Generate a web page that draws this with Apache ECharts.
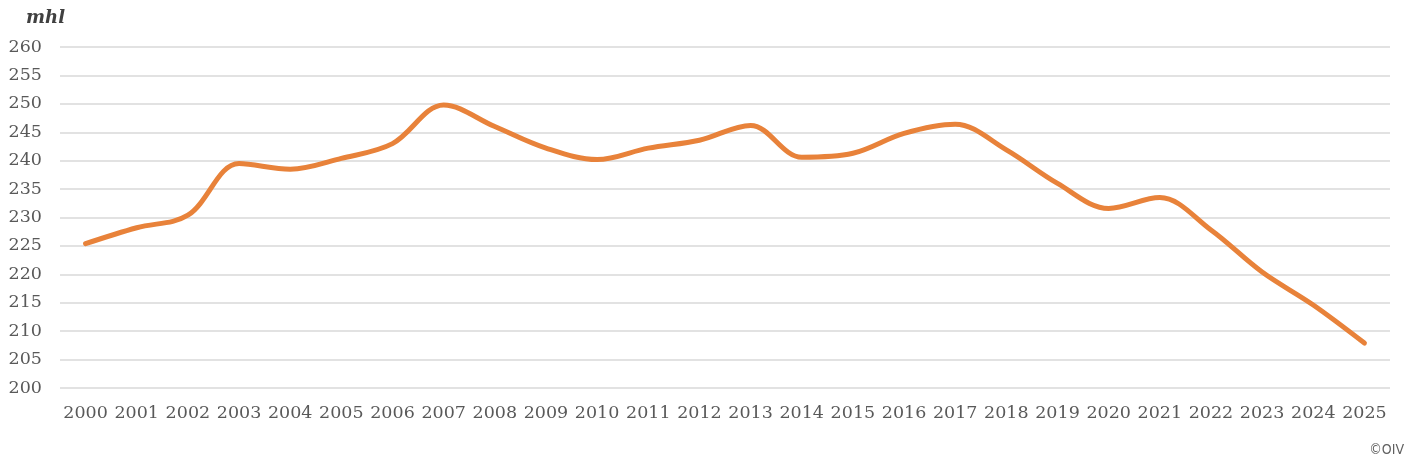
<!DOCTYPE html>
<html lang="en">
  <head>
    <meta charset="UTF-8" />
    <title>World wine consumption</title>
    <script src="https://cdn.jsdelivr.net/npm/echarts@6/dist/echarts.min.js"></script>
    <style>
      html, body { margin: 0; padding: 0; background: #fff; }
    </style>
  </head>

  <body>
    <div id="main" style="width: 1414px; height: 469px"></div>
    <script type="text/javascript">
      const years = ["2000", "2001", "2002", "2003", "2004", "2005", "2006", "2007", "2008", "2009",
        "2010", "2011", "2012", "2013", "2014", "2015", "2016", "2017", "2018", "2019",
        "2020", "2021", "2022", "2023", "2024", "2025"];
      const consumption = [225.4, 228.2, 230.4, 239.5, 238.5, 240.4, 243.0, 249.8, 246.0, 242.2,
        240.2, 242.2, 243.6, 246.2, 240.6, 241.3, 244.8, 246.4, 241.9, 236.0,
        231.6, 233.5, 227.8, 220.4, 214.6, 207.9];
      const unitLabel = "mhl";
      const creditText = "©OIV";

      const textColor = "#595959";
      const serif = "'DejaVu Serif', serif";

      let options = {
        animation: false,
        title: {
          text: unitLabel,
          left: 21,
          top: 4,
          textStyle: { fontFamily: serif, fontStyle: "italic", fontWeight: "bold", fontSize: 18, color: "#404040" },
        },
        graphic: [
          {
            type: "text",
            right: 10,
            bottom: 12,
            style: { text: creditText, fontFamily: "'DejaVu Sans Condensed', 'Liberation Sans Narrow', sans-serif", fontSize: 14, fill: "#606060" },
          },
        ],
        grid: { left: 60, right: 24, top: 47, bottom: 81 },
        xAxis: {
          type: "category",
          data: years,
          boundaryGap: true,
          axisLine: { show: false },
          axisTick: { show: false },
          axisLabel: { color: textColor, fontFamily: serif, fontSize: 17.5, margin: 16, interval: 0 },
        },
        yAxis: {
          type: "value",
          min: 200,
          max: 260,
          interval: 5,
          axisLine: { show: false },
          axisTick: { show: false },
          axisLabel: { color: textColor, fontFamily: serif, fontSize: 17.5, margin: 18 },
          splitLine: { lineStyle: { color: "#d9d9d9", width: 1.5 } },
        },
        series: [
          {
            name: "consumption",
            type: "line",
            data: consumption,
            smooth: 0.35,
            symbol: "none",
            lineStyle: { color: "#e8823a", width: 5, cap: "round" },
          },
        ],
      };
      let myChart = echarts.init(document.getElementById("main"));
      myChart.setOption(options);
    </script>
  </body>
</html>
